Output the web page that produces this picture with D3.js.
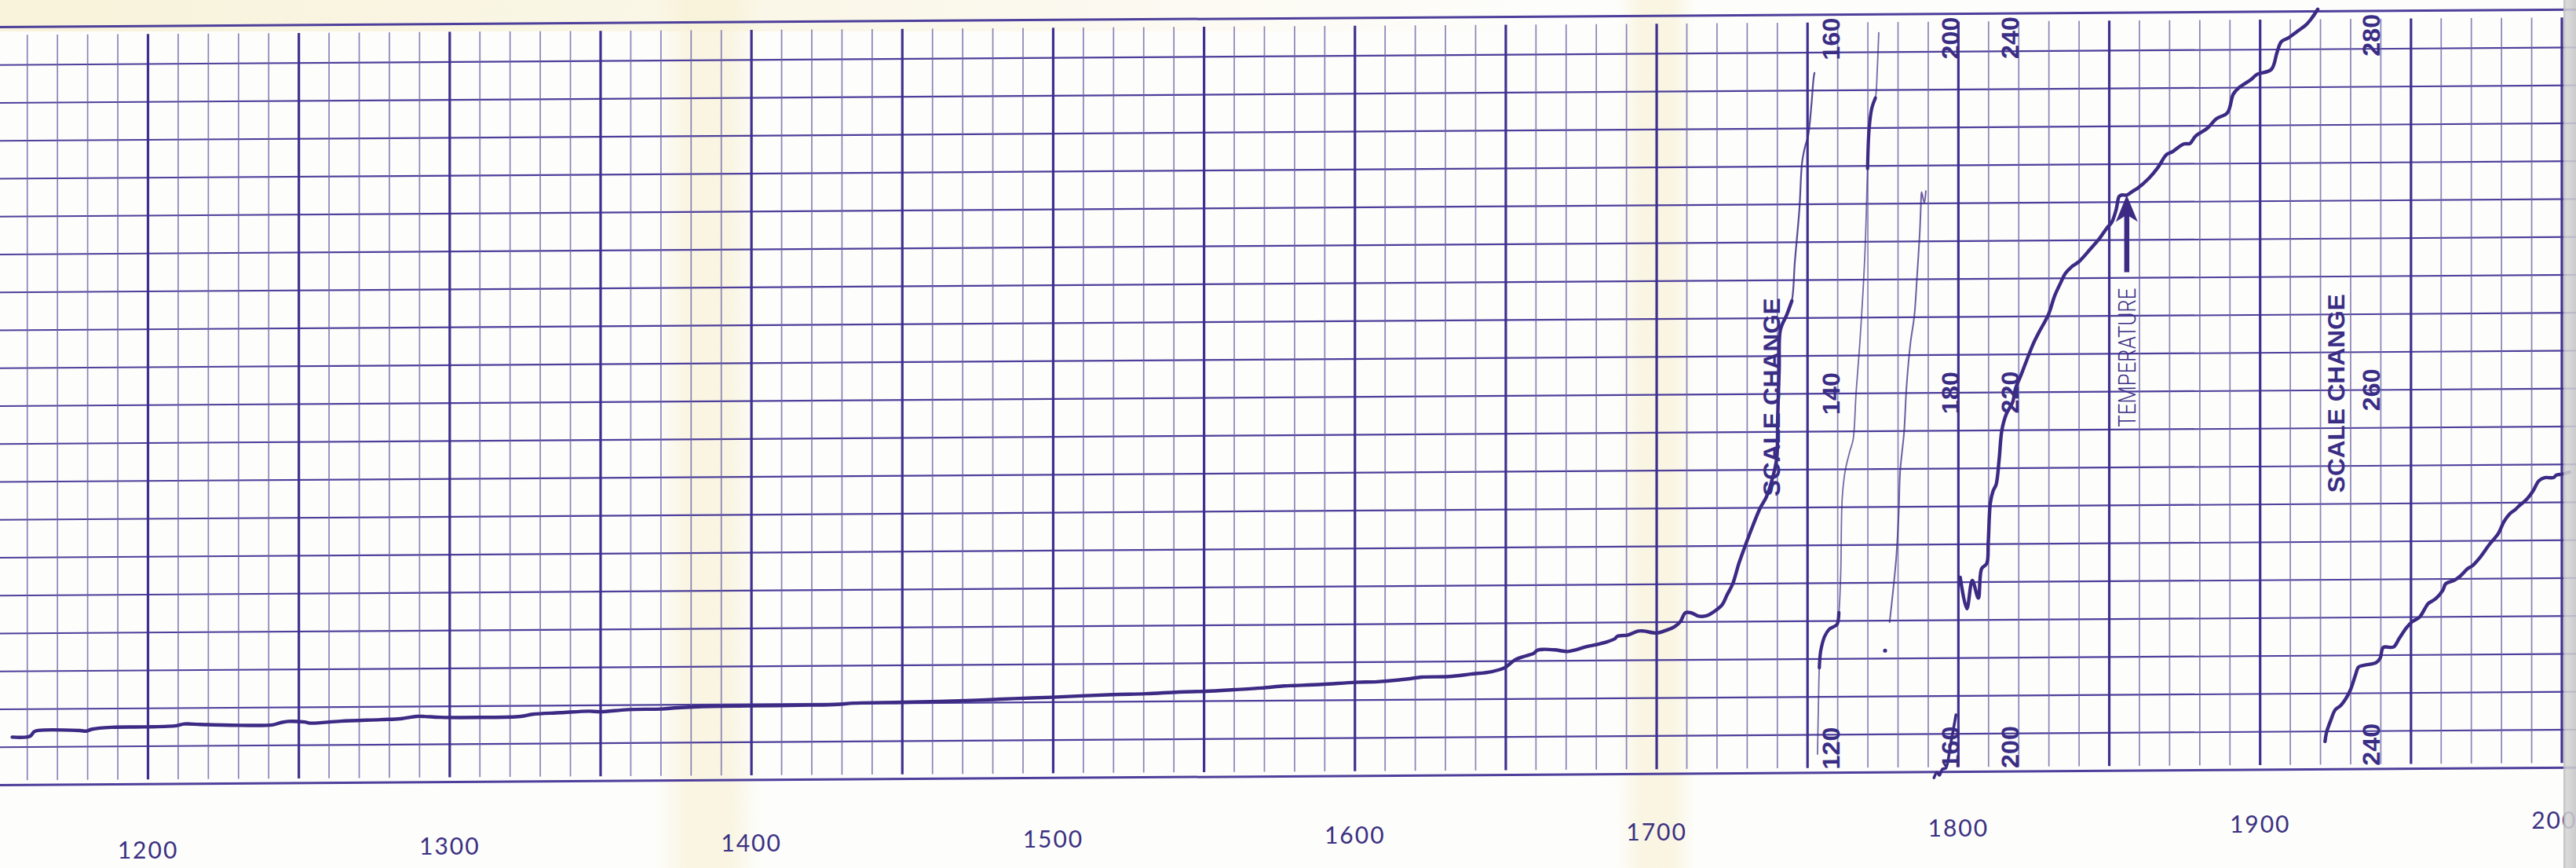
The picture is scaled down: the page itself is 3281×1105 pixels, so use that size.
<!DOCTYPE html>
<html>
<head>
<meta charset="utf-8">
<script src="https://cdn.jsdelivr.net/npm/d3@7"></script>
<style>
  html, body { margin: 0; padding: 0; background: #fdfdfb; overflow: hidden; }
  svg { display: block; }
</style>
</head>
<body>
<svg id="chart" width="3281" height="1105"></svg>
<script>
// ---- Strip-chart record: temperature against year -------------------------

// Year labels printed under the strip
const yearLabels = [1200, 1300, 1400, 1500, 1600, 1700, 1800, 1900, 2000];

// Each recorder range spans 40 units across the full height of the paper
const rangeBases = [80, 120, 160, 200, 240];

// Pen trace in the first range (80-120), 1150s to the first scale change
const trace1 = [[1155.0,82.53],[1160.9,82.57],[1162.2,82.80],[1163.6,82.87],[1177.5,82.85],[1179.5,82.82],[1181.5,82.92],[1188.0,83.01],[1198.8,83.02],[1209.4,83.07],[1212.0,83.16],[1217.3,83.13],[1230.6,83.07],[1241.2,83.08],[1243.8,83.19],[1246.4,83.26],[1251.9,83.22],[1253.8,83.16],[1263.8,83.25],[1277.1,83.32],[1283.7,83.36],[1289.0,83.48],[1291.7,83.47],[1296.9,83.42],[1310.2,83.40],[1323.5,83.44],[1327.5,83.55],[1336.7,83.62],[1346.1,83.69],[1350.0,83.66],[1359.1,83.76],[1370.1,83.78],[1375.5,83.84],[1386.5,83.90],[1399.3,83.91],[1419.4,83.93],[1428.5,83.96],[1434.0,84.02],[1450.4,84.05],[1468.7,84.10],[1486.9,84.20],[1499.7,84.26],[1519.8,84.38],[1530.7,84.41],[1541.7,84.49],[1550.8,84.52],[1559.9,84.59],[1569.0,84.67],[1576.4,84.77],[1580.0,84.79],[1589.1,84.84],[1600.1,84.94],[1607.4,84.96],[1618.3,85.11],[1622.0,85.19],[1631.1,85.21],[1638.4,85.33],[1645.3,85.45],[1649.7,85.66],[1653.1,86.07],[1656.6,86.27],[1659.2,86.40],[1660.5,86.57],[1662.7,86.61],[1666.2,86.58],[1670.5,86.49],[1673.1,86.57],[1676.6,86.73],[1680.0,86.84],[1683.5,86.98],[1686.1,87.14],[1687.0,87.27],[1690.5,87.34],[1693.9,87.54],[1695.7,87.54],[1700.0,87.43],[1702.6,87.54],[1706.1,87.78],[1707.8,88.01],[1709.5,88.49],[1711.3,88.49],[1713.9,88.31],[1716.5,88.32],[1719.1,88.55],[1721.7,88.90],[1723.4,89.44],[1725.2,90.00],[1727.3,91.10],[1729.8,92.20],[1731.8,93.03],[1734.3,93.99],[1736.3,94.55],[1738.3,95.51],[1739.8,96.62],[1740.1,98.69],[1740.6,101.31],[1741.0,103.38],[1743.2,104.21],[1744.8,104.91],[1745.8,106.98],[1747.3,109.73],[1748.2,112.22],[1749.2,113.05],[1750.2,113.61],[1751.3,115.27],[1752.0,116.64],[1752.3,116.93]];
const trace1Heavy = [[1150, 1744.8]];

// Second range (120-160)
const trace2 = [[1753.3,120.98],[1753.6,123.47],[1753.9,125.54],[1754.2,126.24],[1754.6,126.62],[1755.7,127.20],[1757.2,127.57],[1758.8,127.71],[1759.8,127.82],[1760.4,128.44],[1761.0,130.51],[1761.5,134.49],[1762.5,135.94],[1764.0,136.94],[1765.1,137.56],[1766.1,140.05],[1767.4,142.82],[1769.0,147.30],[1769.9,151.86],[1770.4,153.93],[1771.3,155.05],[1772.5,155.59],[1773.1,157.04],[1773.6,159.03]];
const trace2Heavy = [[1753.9, 1760.4], [1769.9, 1772.5]];

// Third range (160-200)
const trace3 = [[1777.2,167.92],[1778.1,169.20],[1779.4,171.32],[1780.2,173.60],[1780.7,175.88],[1782.0,177.95],[1782.8,180.31],[1784.1,182.63],[1785.4,184.08],[1786.3,186.16],[1787.2,188.48],[1787.6,190.02],[1787.8,190.60],[1788.7,190.05],[1789.2,190.65]];
const trace3Dot = [[1775.7,166.42]];
const trace3Scribble = [[1791.9,159.69],[1792.9,159.98],[1793.7,159.82],[1794.7,160.15],[1795.8,160.19],[1797.3,161.35],[1798.4,162.30],[1799.2,163.01]];

// Fourth range (200-240)
const trace4 = [[1800.6,210.26],[1802.8,208.60],[1804.6,210.09],[1806.6,209.16],[1807.7,210.71],[1809.4,210.98],[1809.9,212.12],[1810.6,214.19],[1811.5,214.81],[1812.5,215.14],[1813.5,216.46],[1814.4,218.00],[1815.8,218.83],[1818.0,219.49],[1818.9,220.19],[1820.6,220.85],[1822.7,221.72],[1824.9,222.59],[1826.7,223.16],[1829.9,224.12],[1831.9,225.08],[1833.9,225.77],[1835.4,226.25],[1837.4,226.59],[1839.9,226.87],[1843.8,227.55],[1846.8,228.10],[1849.3,228.66],[1850.8,228.93],[1852.3,229.62],[1853.3,230.31],[1854.3,230.38],[1855.8,230.37],[1857.8,230.58],[1859.3,230.72],[1863.2,231.26],[1866.1,231.81],[1869.0,232.50],[1870.9,232.64],[1874.7,233.05],[1876.7,233.07],[1878.6,233.46],[1882.5,233.87],[1885.4,234.35],[1889.2,234.69],[1891.1,235.66],[1893.0,236.00],[1896.9,236.41],[1898.8,236.68],[1903.7,236.95],[1905.6,237.85],[1907.0,238.40],[1909.4,238.61],[1912.3,238.95],[1915.2,239.29],[1917.1,239.64],[1919.1,240.11]];

// Fifth range (240-280)
const trace5 = [[1921.5,241.47],[1922.0,241.94],[1923.4,242.58],[1924.9,243.14],[1926.8,243.38],[1929.7,244.10],[1931.6,244.97],[1932.6,245.38],[1934.5,245.48],[1938.4,245.61],[1939.8,245.85],[1940.8,246.41],[1944.2,246.43],[1946.1,246.88],[1948.5,247.44],[1950.4,247.76],[1952.8,247.99],[1954.7,248.47],[1955.7,248.71],[1958.1,248.95],[1960.6,249.42],[1961.5,249.75],[1964.4,249.93],[1966.3,250.14],[1968.8,250.54],[1970.2,250.67],[1973.1,251.17],[1976.0,251.81],[1978.9,252.37],[1980.8,253.00],[1982.7,253.41],[1984.6,253.64],[1985.6,253.80],[1988.5,254.20],[1990.4,254.60],[1992.4,255.15],[1994.3,255.31],[1997.2,255.31],[1998.2,255.44],[2000.1,255.49],[2002.5,255.59]];

// Range annotations written on the paper (year where each column of numbers sits)
const rangeLabelYears = [1757.8, 1797.3, 1817.1, 1936.8];
const rangeLabelBases = [120, 160, 200, 240];
const scaleChangeYears = [1738.0, 1925.0];
const scaleChangeText = "SCALE CHANGE";

// Marker arrow on the fourth range
const arrowYear = 1855.8;
const arrowTipValue = 230.37;
const arrowTailValue = 226.3;
const arrowText = "TEMPERATURE";

// ---- layout ----------------------------------------------------------------
const W = 3281, H = 965;
const paperTop = 34.5;
const skewDeg = -0.39;
const ink = "#3c2a84";
const gridInk = "#4d3f9b";
const textInk = "#3a2d85";

const svg = d3.select("#chart");
const defs = svg.append("defs");

const x = d3.scaleLinear().domain([1200, 2000]).range([188.5, 3263]);
const band = base => d3.scaleLinear().domain([base, base + 40]).range([H, 0]);
const unit = band(0);

// paper background with cream fold bands and a grey right edge
svg.append("rect").attr("width", W).attr("height", 1105).attr("fill", "#fdfdfb");

function hGrad(id, stops) {
  const g = defs.append("linearGradient").attr("id", id).attr("x1", 0).attr("x2", 1).attr("y1", 0).attr("y2", 0);
  stops.forEach(s => g.append("stop").attr("offset", s[0]).attr("stop-color", s[1]).attr("stop-opacity", s[2]));
}
hGrad("fold", [[0, "#f7f0d2", 0], [0.3, "#f7f0d2", 0.6], [0.7, "#f7f0d2", 0.6], [1, "#f7f0d2", 0]]);
hGrad("topStrip", [[0, "#f7f0d2", 0.8], [0.35, "#f7f0d2", 0.4], [0.6, "#f7f0d2", 0]]);
hGrad("edge", [[0, "#b9b9bb", 0.9], [0.25, "#d4d4d6", 0.85], [1, "#c6c6c8", 0.9]]);

svg.append("rect").attr("x", 0).attr("y", 0).attr("width", W).attr("height", 40).attr("fill", "url(#topStrip)");
[[835, 970], [2060, 2160]].forEach(b => {
  svg.append("rect").attr("x", b[0]).attr("y", 0).attr("width", b[1] - b[0]).attr("height", 1105).attr("fill", "url(#fold)");
});

// grid, traces and notes live on the slightly skewed paper
const paper = svg.append("g").attr("transform", `translate(0,${paperTop}) skewY(${skewDeg})`);

// horizontal rulings: 20 divisions over the height
paper.append("g").selectAll("line")
  .data(d3.range(0, 41, 2))
  .join("line")
  .attr("x1", 0).attr("x2", W + 10)
  .attr("y1", d => unit(d)).attr("y2", d => unit(d))
  .attr("stroke", gridInk)
  .attr("stroke-width", d => (d === 0 || d === 40) ? 3 : 2.2);

// vertical rulings: every 10 years, heavier every 50 years
paper.append("g").selectAll("line")
  .data(d3.range(1160, 2001, 10))
  .join("line")
  .attr("x1", d => x(d)).attr("x2", d => x(d))
  .attr("y1", 10).attr("y2", H - 6)
  .attr("stroke", d => d % 50 === 0 ? "#3e3090" : "#6e64a8")
  .attr("stroke-opacity", d => d % 50 === 0 ? 1 : 0.8)
  .attr("stroke-width", d => d % 50 === 0 ? 3.2 : 1.7);

// pen traces
function lineFor(base) {
  const y = band(base);
  return d3.line().x(d => x(d[0])).y(d => y(d[1])).curve(d3.curveCatmullRom.alpha(0.5));
}
function pen(data, base, width, opacity) {
  paper.append("path")
    .attr("d", lineFor(base)(data))
    .attr("fill", "none")
    .attr("stroke", ink)
    .attr("stroke-width", width)
    .attr("stroke-opacity", opacity)
    .attr("stroke-linecap", "round")
    .attr("stroke-linejoin", "round");
}
function penSpans(data, base, spans, width) {
  spans.forEach(s => pen(data.filter(d => d[0] >= s[0] && d[0] <= s[1]), base, width, 1));
}

pen(trace1, 80, 2.2, 0.85);
penSpans(trace1, 80, trace1Heavy, 4.4);

pen(trace2, 120, 1.8, 0.7);
penSpans(trace2, 120, trace2Heavy, 4.2);

pen(trace3, 160, 2.0, 0.75);
paper.append("g").selectAll("circle").data(trace3Dot).join("circle")
  .attr("cx", d => x(d[0])).attr("cy", d => band(160)(d[1])).attr("r", 2.6).attr("fill", ink);
pen(trace3Scribble, 160, 3.6, 1);

pen(trace4, 200, 4.4, 1);
pen(trace5, 240, 4.4, 1);

// range numbers beside the traces (bottom / middle / top of each range)
const rangeFont = "'Liberation Sans', Arial, sans-serif";
rangeLabelYears.forEach((yr, i) => {
  const base = rangeLabelBases[i];
  const cx = x(yr);
  const marks = [
    { t: base, y: H - 4, anchor: "start" },
    { t: base + 20, y: H / 2, anchor: "middle" },
    { t: base + 40, y: 4, anchor: "end" }
  ];
  marks.forEach(m => {
    paper.append("text")
      .attr("transform", `translate(${cx},${m.y}) rotate(-90)`)
      .attr("dy", "0.36em")
      .attr("text-anchor", m.anchor)
      .attr("font-family", rangeFont)
      .attr("font-weight", "bold")
      .attr("font-size", 31)
      .attr("textLength", 54)
      .attr("lengthAdjust", "spacingAndGlyphs")
      .attr("fill", textInk)
      .text(m.t);
  });
});

// scale change notes
scaleChangeYears.forEach(yr => {
  paper.append("text")
    .attr("transform", `translate(${x(yr)},${H / 2 + 4}) rotate(-90)`)
    .attr("dy", "0.36em")
    .attr("text-anchor", "middle")
    .attr("font-family", rangeFont)
    .attr("font-weight", "bold")
    .attr("font-size", 30)
    .attr("textLength", 253)
    .attr("lengthAdjust", "spacingAndGlyphs")
    .attr("fill", textInk)
    .text(scaleChangeText);
});

// arrow pointing at the trace, with its caption
const ay = band(200);
const ax = x(arrowYear);
const tipY = ay(arrowTipValue);
const tailY = ay(arrowTailValue);
paper.append("line")
  .attr("x1", ax).attr("x2", ax)
  .attr("y1", tailY).attr("y2", tipY + 22)
  .attr("stroke", ink).attr("stroke-width", 6.5);
paper.append("path")
  .attr("d", `M${ax},${tipY} L${ax - 14},${tipY + 34} L${ax},${tipY + 25} L${ax + 14},${tipY + 34} Z`)
  .attr("fill", ink);
paper.append("text")
  .attr("transform", `translate(${ax},${tailY + 20}) rotate(-90)`)
  .attr("dy", "0.36em")
  .attr("text-anchor", "end")
  .attr("font-family", "'Liberation Sans Narrow', Roboto, 'Liberation Sans', sans-serif")
  .attr("font-weight", 300)
  .attr("font-size", 31)
  .attr("textLength", 177)
  .attr("lengthAdjust", "spacingAndGlyphs")
  .attr("fill", textInk)
  .text(arrowText);

// year labels along the lower margin
svg.append("g").selectAll("text")
  .data(yearLabels)
  .join("text")
  .attr("x", d => x(d))
  .attr("y", d => 1093 - 0.0122 * (x(d) - x(1200)))
  .attr("text-anchor", "middle")
  .attr("font-family", "Lato, 'DejaVu Sans', sans-serif")
  .attr("font-size", 30)
  .attr("letter-spacing", 2)
  .attr("fill", "#3b3182")
  .text(d => d);

// grey paper edge at the right
svg.append("rect").attr("x", 3265).attr("y", 0).attr("width", 16).attr("height", 1105).attr("fill", "url(#edge)");
</script>
</body>
</html>
